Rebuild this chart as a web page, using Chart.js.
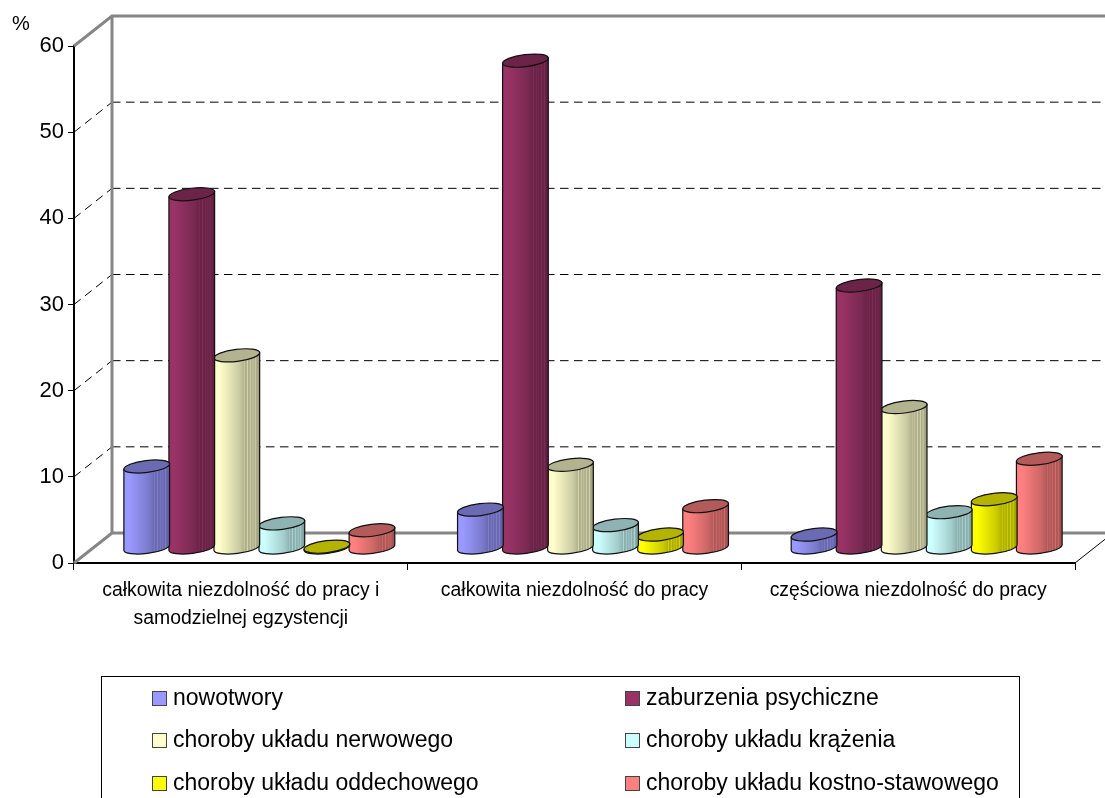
<!DOCTYPE html>
<html><head><meta charset="utf-8">
<style>html,body{margin:0;padding:0;background:#fff;overflow:hidden}#w{width:1105px;height:798px;position:relative}</style>
<script src="https://cdn.jsdelivr.net/npm/chart.js@4/dist/chart.umd.min.js"></script>
</head><body><div id="w"><canvas id="c" width="1105" height="798"></canvas></div>
<script>
const categories = [["całkowita niezdolność do pracy i","samodzielnej egzystencji"],"całkowita niezdolność do pracy","częściowa niezdolność do pracy"];
const seriesNames = ["nowotwory","zaburzenia psychiczne","choroby układu nerwowego","choroby układu krążenia","choroby układu oddechowego","choroby układu kostno-stawowego"];
const nowotwory = [9.4,4.4,1.5];
const zaburzenia = [41.0,56.5,30.4];
const nerwowe = [22.3,9.6,16.3];
const krazenie = [2.8,2.6,4.1];
const oddechowe = [0.1,1.5,5.6];
const kostne = [2.0,4.8,10.3];
const seriesColors = ["#9999FF","#993366","#FFFFCC","#CCFFFF","#FFFF00","#FF8080"];
const yTicks = [0,10,20,30,40,50,60];
const FONT = '"Liberation Sans", Arial, sans-serif';
const DX = 38, DY = 30, GRAY = '#868686';

function shade(hex,f){const n=parseInt(hex.slice(1),16);return `rgb(${Math.round((n>>16&255)*f)},${Math.round((n>>8&255)*f)},${Math.round((n&255)*f)})`;}
function line(ctx,x1,y1,x2,y2){ctx.beginPath();ctx.moveTo(x1,y1);ctx.lineTo(x2,y2);ctx.stroke();}

const walls = {id:'walls',beforeDatasetsDraw(chart){
  const {ctx,chartArea:a,scales:{y}}=chart;ctx.save();
  ctx.strokeStyle='#000';ctx.lineWidth=1;ctx.setLineDash([8.5,5.5]);
  yTicks.slice(1,-1).forEach(v=>{const p=y.getPixelForValue(v);
    line(ctx,a.left,p,a.left+DX,p-DY);
    line(ctx,a.left+DX,p-DY,a.right+DX,p-DY);});
  ctx.setLineDash([]);ctx.strokeStyle=GRAY;ctx.lineWidth=3;
  const y0=y.getPixelForValue(0),yT=y.getPixelForValue(60);
  ctx.beginPath();ctx.moveTo(a.left,yT);ctx.lineTo(a.left+DX,yT-DY);ctx.lineTo(a.right+DX,yT-DY);ctx.stroke();
  line(ctx,a.left+DX,yT-DY,a.left+DX,y0-DY);
  ctx.beginPath();ctx.moveTo(a.left,y0);ctx.lineTo(a.left+DX,y0-DY);ctx.lineTo(a.right+DX,y0-DY);ctx.stroke();
  ctx.strokeStyle='#000';ctx.lineWidth=1;line(ctx,a.right,y0,a.right+DX,y0-DY);
  ctx.restore();
}};

const cylinders = {id:'cylinders',beforeDatasetDraw(chart,args){
  const {ctx,scales:{y}}=chart,ds=chart.data.datasets[args.index],color=ds.backgroundColor;
  const lift=15.5,base=y.getPixelForValue(0)-lift,rot=-7*Math.PI/180,ry=6;
  args.meta.data.forEach(el=>{
    const rx=el.width/2+.5,cx=el.x+18.5,top=el.y-lift,ex=rx*Math.cos(rot),ey=rx*Math.sin(rot);
    const g=ctx.createLinearGradient(cx-ex,0,cx+ex,0);
    g.addColorStop(0,color);g.addColorStop(.12,color);g.addColorStop(.55,shade(color,.8));
    [.66,.72,.78,.84,.9].forEach(s=>{g.addColorStop(s,shade(color,.7));g.addColorStop(s+.015,shade(color,.84));g.addColorStop(s+.03,shade(color,.68));});
    g.addColorStop(1,shade(color,.6));
    ctx.save();ctx.lineWidth=1.2;ctx.strokeStyle='#111';
    ctx.beginPath();ctx.moveTo(cx-ex,top-ey);ctx.lineTo(cx-ex,base-ey);
    ctx.ellipse(cx,base,rx,ry,rot,Math.PI,0,true);
    ctx.lineTo(cx+ex,top+ey);ctx.closePath();
    ctx.fillStyle=g;ctx.fill();ctx.stroke();
    ctx.beginPath();ctx.ellipse(cx,top,rx,ry,rot,0,2*Math.PI);
    ctx.fillStyle=shade(color,.7);ctx.fill();ctx.stroke();
    ctx.restore();
  });
  return false;
}};

const legendBox = {id:'legendBox',afterDraw(chart){
  const {ctx}=chart;ctx.save();
  ctx.strokeStyle='#000';ctx.lineWidth=1;ctx.strokeRect(101.5,676.5,918,140);
  ctx.font='23px '+FONT;ctx.textBaseline='alphabetic';ctx.textAlign='left';
  chart.data.datasets.forEach((d,i)=>{
    const col=i%2,row=Math.floor(i/2),sx=col?625:152,cy=[698,740,783][row];
    ctx.fillStyle=d.backgroundColor;ctx.fillRect(sx+.5,cy-6.5,14,14);
    ctx.strokeStyle='#444';ctx.strokeRect(sx+.5,cy-6.5,14,14);
    ctx.fillStyle='#000';ctx.fillText(d.label,sx+21,cy+7);
  });
  ctx.font='20px '+FONT;ctx.fillText('%',12,30);
  ctx.restore();
}};

new Chart(document.getElementById('c'),{
  type:'bar',
  data:{labels:categories,datasets:[nowotwory,zaburzenia,nerwowe,krazenie,oddechowe,kostne].map((v,i)=>({label:seriesNames[i],data:v,backgroundColor:seriesColors[i]}))},
  options:{
    responsive:false,animation:false,
    layout:{padding:{top:46,right:30,left:0,bottom:0}},
    datasets:{bar:{categoryPercentage:.81,barPercentage:1}},
    plugins:{legend:{display:false},title:{display:false},tooltip:{enabled:false}},
    scales:{
      x:{grid:{drawOnChartArea:false,tickLength:7,color:'#000',lineWidth:1,offset:true},border:{color:'#000',width:2},
         ticks:{color:'#000',font:{family:FONT,size:19.4,lineHeight:1.44},autoSkip:false,maxRotation:0,minRotation:0,padding:7},
         afterFit(s){s.height=235;}},
      y:{min:0,max:60,grid:{drawOnChartArea:false,tickLength:6,color:'#000',lineWidth:1},border:{color:'#000',width:2},
         afterBuildTicks(s){s.ticks=yTicks.map(v=>({value:v}));},
         ticks:{color:'#000',font:{family:FONT,size:22},padding:4},
         afterFit(s){s.width=74;}}
    }
  },
  plugins:[walls,cylinders,legendBox]
});
</script></body></html>
